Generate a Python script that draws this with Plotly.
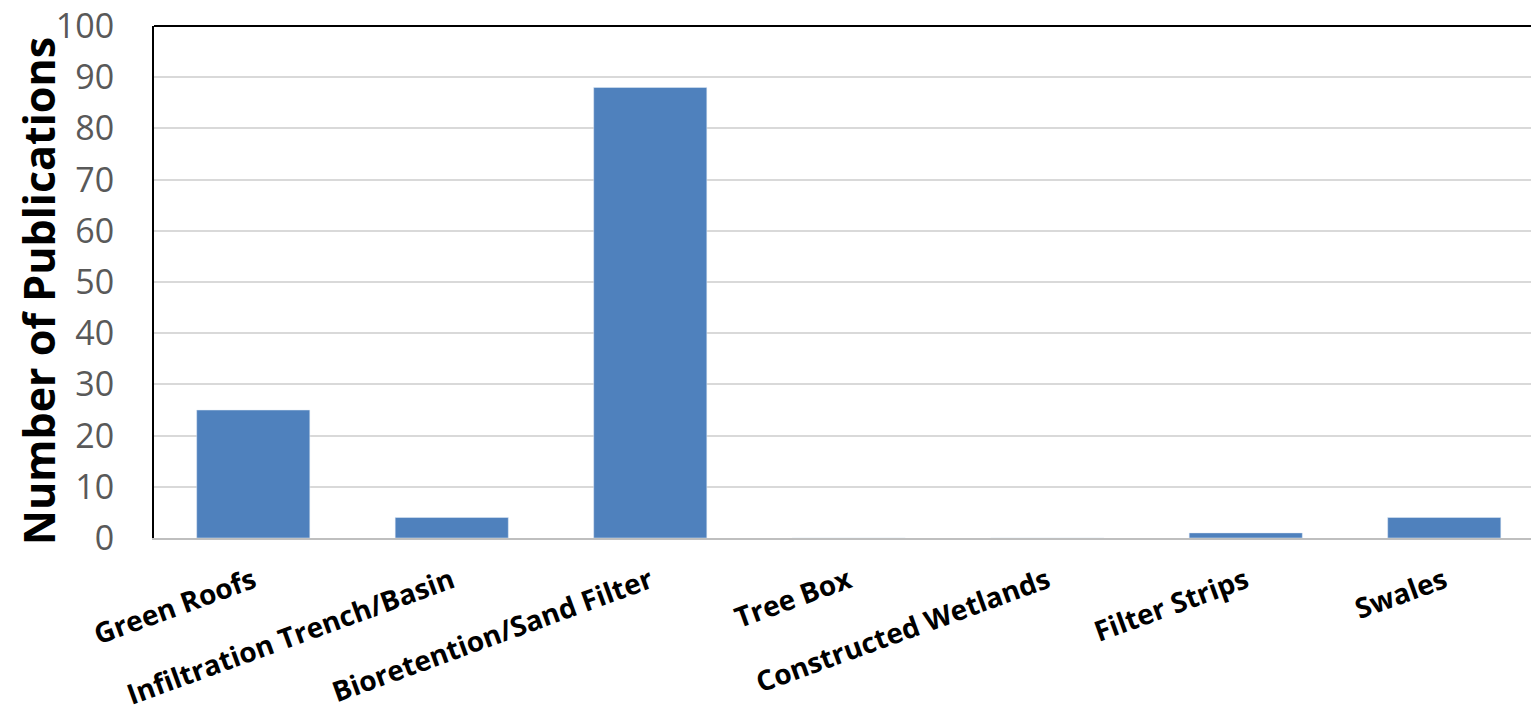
import plotly.graph_objects as go

categories = ["Green Roofs", "Infiltration Trench/Basin", "Bioretention/Sand Filter",
              "Tree Box", "Constructed Wetlands", "Filter Strips", "Swales"]
values = [25, 4, 88, 0, 0, 1, 4]
y_ticks = [0, 10, 20, 30, 40, 50, 60, 70, 80, 90, 100]
y_title = "Number of Publications"

fig = go.Figure(go.Bar(x=categories, y=values, marker_color="#4f81bd",
                       width=0.57))

W, H = 1531, 717
left, top, bottom = 154, 26, 179
cat_px = 198.5
x_end = -0.5 + (W - left) / cat_px
plot_w = W - left
plot_h = H - top - bottom

fig.update_layout(
    width=W, height=H,
    margin=dict(l=left, r=0, t=top, b=bottom, pad=0),
    plot_bgcolor="white", paper_bgcolor="white",
    showlegend=False,
    xaxis=dict(range=[-0.5, x_end], showline=True, linecolor="#bfbfbf", linewidth=2,
               tickangle=-20, ticks="", ticklabelstandoff=14, automargin=False,
               tickfont=dict(family="Open Sans", size=28, color="black", weight="bold"),
               showgrid=False),
    yaxis=dict(range=[0, 100], tickvals=y_ticks, showline=True, linecolor="black", linewidth=2,
               gridcolor="#d9d9d9", gridwidth=2, ticks="", ticklabelstandoff=31,
               automargin=False,
               tickfont=dict(family="Open Sans", size=34, color="#595959"),
               zeroline=False),
    shapes=[dict(type="line", xref="paper", yref="paper", x0=0, x1=1, y0=1, y1=1,
                 line=dict(color="black", width=2))],
    annotations=[dict(text=y_title, textangle=-90, showarrow=False,
                      xref="paper", yref="paper",
                      x=(38 - left) / plot_w, y=(H - bottom - 291) / plot_h,
                      xanchor="center", yanchor="middle",
                      font=dict(family="Open Sans", size=43, color="black", weight="bold"))],
)

fig.write_html("out.html")
